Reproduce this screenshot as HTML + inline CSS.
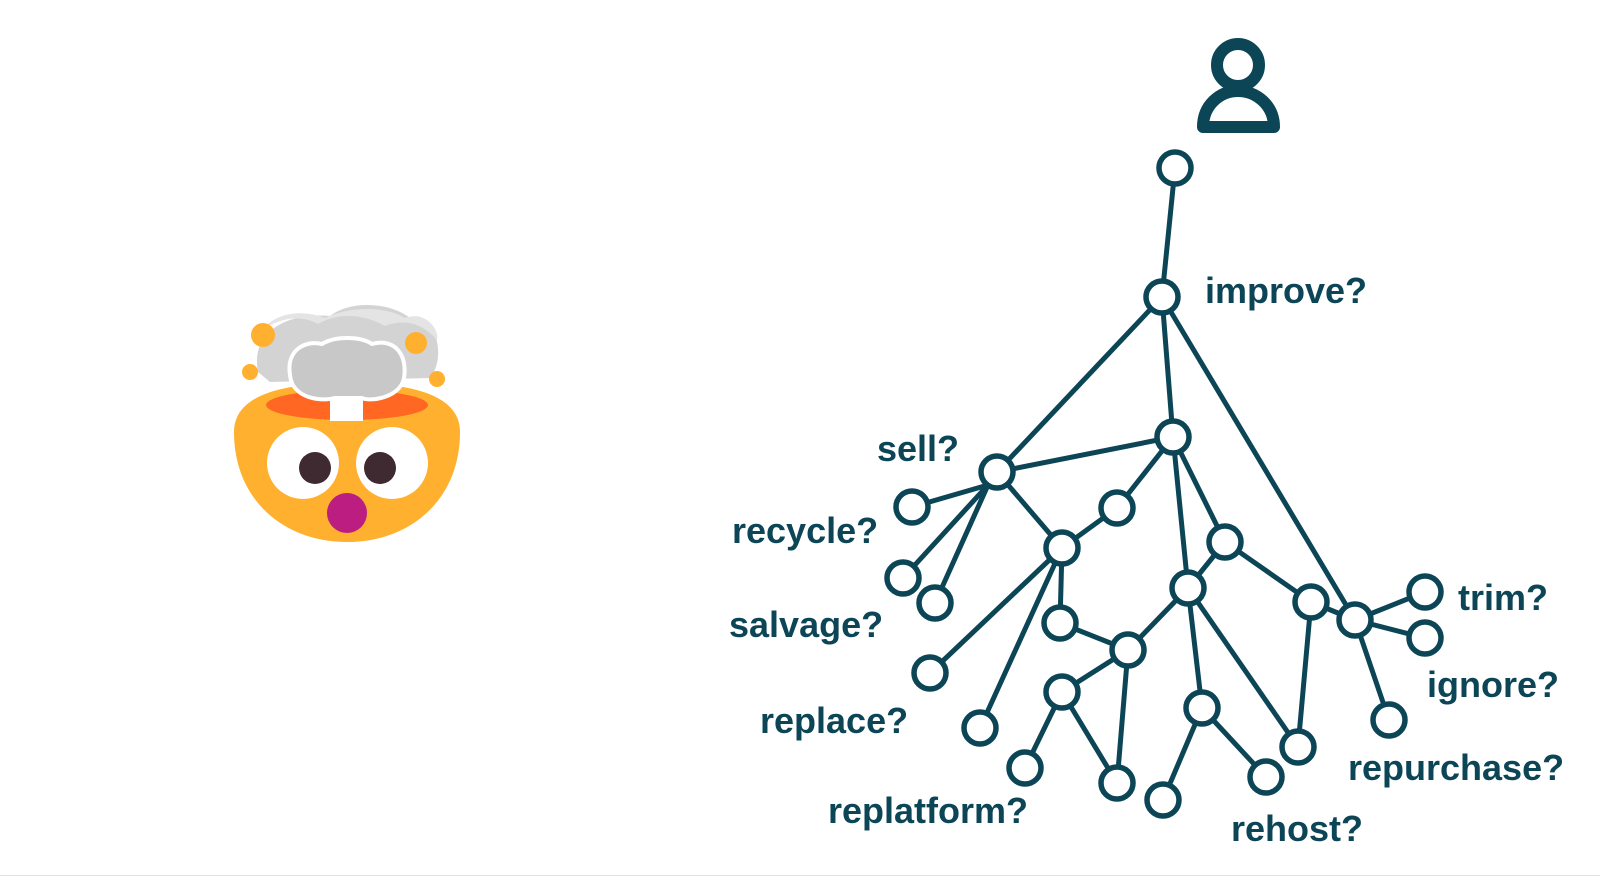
<!DOCTYPE html>
<html><head><meta charset="utf-8"><style>
html,body{margin:0;padding:0;background:#fff;width:1600px;height:876px;overflow:hidden}
svg{display:block}
text{font-family:"Liberation Sans",sans-serif;font-weight:bold;fill:#0c4556;font-size:36px}
</style></head><body>
<svg width="1600" height="876" viewBox="0 0 1600 876">
<g>
<path d="M258,372 C250,330 290,312 330,316 C350,300 390,302 410,318 C440,318 445,360 430,378 L270,382 Z" fill="#d3d3d3"/>
<path d="M262,330 C280,308 310,312 325,318 C350,306 385,306 405,318 C425,310 440,330 437,340 C420,320 400,320 385,326 C360,312 335,314 318,324 C300,314 280,318 262,330Z" fill="#e4e4e4"/>
<path d="M234,432 C234,392 290,383 347,383 C404,383 460,392 460,432 C460,500 410,542 347,542 C284,542 234,500 234,432 Z" fill="#ffb02e"/>
<ellipse cx="347" cy="405" rx="81" ry="15" fill="#ff6723"/>
<rect x="330" y="395" width="33" height="26" fill="#fff"/>
<path d="M290,375 C286,350 305,340 322,344 C335,336 360,336 372,344 C392,338 408,352 404,378 C400,398 370,402 362,398 L335,398 C320,402 292,398 290,375Z" fill="#c8c8c8" stroke="#fff" stroke-width="4"/>
<circle cx="263" cy="335" r="12" fill="#ffb02e"/>
<circle cx="416" cy="343" r="11" fill="#ffb02e"/>
<circle cx="250" cy="372" r="8" fill="#ffb02e"/>
<circle cx="437" cy="379" r="8" fill="#ffb02e"/>
<circle cx="303" cy="463" r="36" fill="#fff"/>
<circle cx="392" cy="463" r="36" fill="#fff"/>
<circle cx="315" cy="468" r="16" fill="#402a32"/>
<circle cx="380" cy="468" r="16" fill="#402a32"/>
<circle cx="347" cy="513" r="20" fill="#bb1d80"/>
</g>
<circle cx="1238" cy="65" r="21" fill="none" stroke="#0c4556" stroke-width="12"/>
<path d="M1203,127 C1203,105 1220,91 1238,91 C1256,91 1274,105 1274,127 Z" fill="none" stroke="#0c4556" stroke-width="12" stroke-linejoin="round"/>
<g stroke="#0c4556" stroke-width="5" fill="none" stroke-linecap="round">
<line x1="1175" y1="168" x2="1162" y2="297"/>
<line x1="1162" y1="297" x2="997" y2="472"/>
<line x1="1162" y1="297" x2="1173" y2="437"/>
<line x1="1162" y1="297" x2="1355" y2="620"/>
<line x1="997" y1="472" x2="1173" y2="437"/>
<line x1="988" y1="485" x2="912" y2="507"/>
<line x1="988" y1="485" x2="903" y2="578"/>
<line x1="988" y1="485" x2="935" y2="603"/>
<line x1="997" y1="472" x2="1062" y2="548"/>
<line x1="1062" y1="548" x2="1117" y2="508"/>
<line x1="1117" y1="508" x2="1173" y2="437"/>
<line x1="1173" y1="437" x2="1188" y2="588"/>
<line x1="1173" y1="437" x2="1225" y2="542"/>
<line x1="1225" y1="542" x2="1188" y2="588"/>
<line x1="1225" y1="542" x2="1311" y2="602"/>
<line x1="1311" y1="602" x2="1355" y2="620"/>
<line x1="1311" y1="602" x2="1298" y2="747"/>
<line x1="1355" y1="620" x2="1425" y2="592"/>
<line x1="1355" y1="620" x2="1425" y2="638"/>
<line x1="1355" y1="620" x2="1389" y2="720"/>
<line x1="1062" y1="548" x2="1060" y2="623"/>
<line x1="1062" y1="548" x2="930" y2="673"/>
<line x1="1062" y1="548" x2="980" y2="728"/>
<line x1="1060" y1="623" x2="1128" y2="650"/>
<line x1="1128" y1="650" x2="1188" y2="588"/>
<line x1="1128" y1="650" x2="1062" y2="692"/>
<line x1="1128" y1="650" x2="1117" y2="783"/>
<line x1="1062" y1="692" x2="1025" y2="768"/>
<line x1="1062" y1="692" x2="1117" y2="783"/>
<line x1="1188" y1="588" x2="1202" y2="708"/>
<line x1="1188" y1="588" x2="1298" y2="747"/>
<line x1="1202" y1="708" x2="1163" y2="800"/>
<line x1="1202" y1="708" x2="1266" y2="777"/>
</g>
<g stroke="#0c4556" stroke-width="5.5" fill="#fff">
<circle cx="1175" cy="168" r="16"/>
<circle cx="1162" cy="297" r="16"/>
<circle cx="1173" cy="437" r="16"/>
<circle cx="997" cy="472" r="16"/>
<circle cx="912" cy="507" r="16"/>
<circle cx="903" cy="578" r="16"/>
<circle cx="935" cy="603" r="16"/>
<circle cx="1062" cy="548" r="16"/>
<circle cx="1117" cy="508" r="16"/>
<circle cx="1225" cy="542" r="16"/>
<circle cx="1188" cy="588" r="16"/>
<circle cx="1311" cy="602" r="16"/>
<circle cx="1355" cy="620" r="16"/>
<circle cx="1425" cy="592" r="16"/>
<circle cx="1425" cy="638" r="16"/>
<circle cx="1389" cy="720" r="16"/>
<circle cx="1060" cy="623" r="16"/>
<circle cx="1128" cy="650" r="16"/>
<circle cx="1062" cy="692" r="16"/>
<circle cx="930" cy="673" r="16"/>
<circle cx="980" cy="728" r="16"/>
<circle cx="1025" cy="768" r="16"/>
<circle cx="1117" cy="783" r="16"/>
<circle cx="1202" cy="708" r="16"/>
<circle cx="1163" cy="800" r="16"/>
<circle cx="1266" cy="777" r="16"/>
<circle cx="1298" cy="747" r="16"/>
</g>
<text x="1205" y="303">improve?</text>
<text x="877" y="461">sell?</text>
<text x="732" y="543">recycle?</text>
<text x="729" y="637">salvage?</text>
<text x="760" y="733">replace?</text>
<text x="828" y="823">replatform?</text>
<text x="1231" y="841">rehost?</text>
<text x="1458" y="610">trim?</text>
<text x="1427" y="697">ignore?</text>
<text x="1348" y="780">repurchase?</text>
<line x1="0" y1="875.5" x2="1600" y2="875.5" stroke="#e2e2e2" stroke-width="1"/>
</svg>
</body></html>
